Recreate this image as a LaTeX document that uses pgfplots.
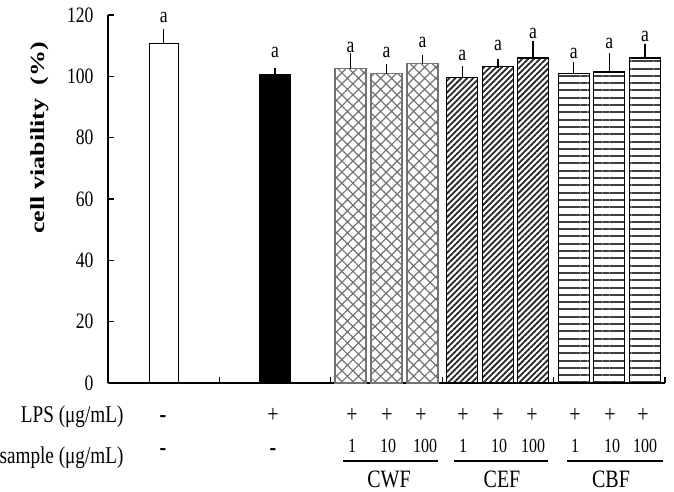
\documentclass[border=0pt]{standalone}
\usepackage{fontspec}
\setmainfont{Liberation Serif}[FakeStretch=0.8]
\newfontfamily\ylabfont{Liberation Serif}[FakeStretch=1.3]
\usepackage{pgfplots}
\pgfplotsset{compat=1.18}
\usetikzlibrary{patterns.meta}
\newcommand\lab{\fontsize{25}{28}\selectfont}
\newcommand\rowlab{\fontsize{24}{28}\selectfont}
\newcommand\num{\fontsize{20}{24}\selectfont}
\begin{document}
\begin{tikzpicture}
\useasboundingbox (0pt,0pt) rectangle (674pt,492pt);
\begin{axis}[
  at={(108pt,109pt)}, anchor=south west,
  scale only axis, width=557pt, height=368pt,
  xmin=0, xmax=5, ymin=0, ymax=120,
  axis lines=left, axis line style={-, line width=1.2pt},
  ytick={0,20,...,120}, xtick={0,1,2,3,4,5}, xticklabels={},
  tick align=inside, tick style={line width=1.2pt, black},
  major tick length=6pt,
  yticklabel style={xshift=-11pt, font=\fontsize{22}{24}\selectfont},
  /pgf/number format/assume math mode=true,
  clip=false, enlargelimits=false,
  every node near coord/.style={anchor=base, inner sep=0pt, font=\fontsize{22}{24}\selectfont, black},
  error bars/error bar style={line width=1.5pt, black},
  error bars/error mark options={line width=1.5pt, mark size=4.5pt, black},
]
% control
\addplot[ybar, bar width=29pt, bar shift=0pt, fill=white, draw=black, line width=1.2pt,
  error bars/.cd, y dir=plus, y explicit]
  coordinates {(0.5,110.6) +- (0,3.5)};
% LPS
\addplot[ybar, bar width=31pt, bar shift=0pt, fill=black, draw=black, line width=1.2pt,
  error bars/.cd, y dir=plus, y explicit]
  coordinates {(1.5,100.7) +- (0,0.4)};
% CWF
\addplot[ybar, bar width=31pt, bar shift=0pt, draw=black!55, line width=1.2pt,
  pattern={Hatch[angle=45,distance=7.8pt,line width=1.2pt]}, pattern color=black!55,
  error bars/.cd, y dir=plus, y explicit]
  coordinates {(2.177,102.5) +- (0,3.6) (2.50,100.8) +- (0,1.7) (2.823,104.3) +- (0,1.1)};
% CEF
\addplot[ybar, bar width=31pt, bar shift=0pt, draw=black, line width=1.2pt,
  pattern={Lines[angle=45,distance=4.2pt,line width=1.8pt]}, pattern color=black!85,
  error bars/.cd, y dir=plus, y explicit]
  coordinates {(3.18,99.5) +- (0,2.4) (3.50,103.3) +- (0,1.0) (3.815,106.0) +- (0,4.1)};
% CBF
\addplot[ybar, bar width=31pt, bar shift=0pt, draw=black, line width=1.2pt,
  pattern={Lines[angle=0,distance=7.3pt,line width=2pt]}, pattern color=black!75,
  error bars/.cd, y dir=plus, y explicit]
  coordinates {(4.18,100.8) +- (0,2.5) (4.50,101.4) +- (0,4.7) (4.82,106.0) +- (0,3.1)};
% significance letters
\addplot[only marks, mark=none, nodes near coords={a}]
  coordinates {(0.5,117.5) (1.5,106.2)
  (2.177,107.9) (2.50,106.3) (2.823,109.5)
  (3.18,105.2) (3.50,108.5) (3.815,112.3)
  (4.18,105.7) (4.50,109.0) (4.82,111.5)};
\end{axis}
% y label
\node[rotate=90, font=\ylabfont\bfseries\fontsize{20}{24}\selectfont] at (40pt,354pt) {cell viability\ \ (\%)};
% LPS row
\node[anchor=base east, font=\rowlab] at (127pt,69pt) {LPS (μg/mL)};
\node[anchor=base, font=\lab\bfseries] at (163pt,69pt) {-};
\foreach \x in {273,352,387,421,463,498,532,575,610,643} \node[anchor=base, font=\lab] at (\x pt,69pt) {+};
% sample row
\node[anchor=base east, font=\rowlab] at (127pt,28pt) {sample (μg/mL)};
\foreach \x in {163,273} \node[anchor=base, font=\lab\bfseries] at (\x pt,36pt) {-};
\foreach \x/\t in {352/1,388/10,425/100,463/1,499/10,533/100,575/1,612/10,645/100}
  \node[anchor=base, font=\num] at (\x pt,39pt) {\t};
\foreach \a/\b in {343/438,454/548,567/663} \draw[line width=1.5pt] (\a pt,31pt) -- (\b pt,31pt);
\node[anchor=base, font=\lab, inner sep=1pt] at (389pt,4pt) {CWF};
\node[anchor=base, font=\lab, inner sep=1pt] at (502pt,4pt) {CEF};
\node[anchor=base, font=\lab, inner sep=1pt] at (611pt,4pt) {CBF};
\end{tikzpicture}
\end{document}
